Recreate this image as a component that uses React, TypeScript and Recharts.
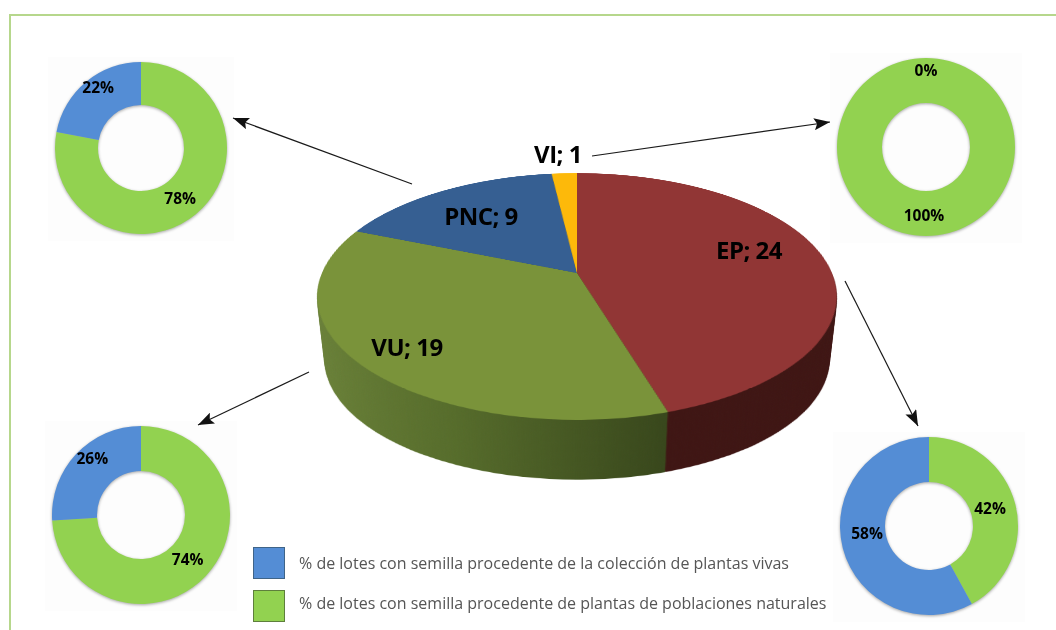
import { Cell, Pie, PieChart } from 'recharts';

const STATUS_NAMES = ['EP', 'VU', 'PNC', 'VI'];
const STATUS_COUNTS = [24, 19, 9, 1];
const STATUS_COLORS = ['#913635', '#7a933a', '#365f92', '#fdb90a'];
const WALL_COLORS = ['#3f1614', 'url(#vuWall)', '#24405f', '#a67a06'];

const DONUT_NAMES = ['Poblaciones naturales', 'Plantas vivas'];
const DONUT_PNC = [78, 22];
const DONUT_VI = [100, 0];
const DONUT_VU = [74, 26];
const DONUT_EP = [42, 58];
const DONUT_COLORS = ['#92d250', '#548dd5'];

const LEGEND_LABELS = [
  '% de lotes con semilla procedente de la colección de plantas vivas',
  '% de lotes con semilla procedente de plantas de poblaciones naturales',
];

const FONT = '"Open Sans", sans-serif';
const SIZE = 600;
const RADIUS = 255;
const APEX = { x: 577, y: 273 };
const TILT = 'perspective(1186px) rotateX(62.2deg)';
const WALL_LAYERS = Array.from({ length: 64 }, (_, i) => 64 - i);

const STATUS_LABEL_POS = [
  { x: 749, y: 250 },
  { x: 407, y: 347 },
  { x: 481, y: 216 },
  { x: 558, y: 154 },
];

const ARROWS = [
  [412, 184, 233, 118],
  [592, 156, 830, 122],
  [309, 372, 198, 425],
  [845, 281, 918, 426],
];

const statusData = STATUS_NAMES.map((name, i) => ({ name, value: STATUS_COUNTS[i] }));

function StatusPie({ colors, layer }: { colors: string[]; layer: number }) {
  const shrink = 1 - layer * 0.00045;
  return (
    <div
      style={{
        position: 'absolute',
        left: APEX.x - SIZE / 2,
        top: APEX.y - SIZE / 2,
        width: SIZE,
        height: SIZE,
        transform: `translateY(${layer}px) scale(${shrink}) ${TILT}`,
      }}
    >
      <PieChart width={SIZE} height={SIZE} margin={{ top: 0, right: 0, bottom: 0, left: 0 }}>
        <defs>
          <linearGradient id="vuWall" gradientUnits="userSpaceOnUse" x1="40" y1="0" x2="390" y2="0">
            <stop offset="0%" stopColor="#6c833a" />
            <stop offset="45%" stopColor="#566c2b" />
            <stop offset="100%" stopColor="#35431a" />
          </linearGradient>
        </defs>
        <Pie
          data={statusData}
          dataKey="value"
          nameKey="name"
          cx={SIZE / 2}
          cy={SIZE / 2}
          innerRadius={0}
          outerRadius={RADIUS}
          startAngle={90}
          endAngle={-270}
          stroke="none"
          isAnimationActive={false}
        >
          {statusData.map((entry, i) => (
            <Cell key={entry.name} fill={colors[i]} />
          ))}
        </Pie>
      </PieChart>
    </div>
  );
}

function donutLabel(radii: number[], nudges: number[][]) {
  return (props: any) => {
    const { cx, cy, midAngle, index, value } = props;
    const angle = (-midAngle * Math.PI) / 180;
    return (
      <text
        x={cx + radii[index] * Math.cos(angle) + nudges[index][0]}
        y={cy + radii[index] * Math.sin(angle) + nudges[index][1]}
        textAnchor="middle"
        dominantBaseline="central"
        fontFamily={FONT}
        fontWeight={700}
        fontSize={15.5}
        fill="#000"
      >
        {value}%
      </text>
    );
  };
}

function Donut({
  values,
  x,
  y,
  outer,
  inner,
  radii,
  nudges,
}: {
  values: number[];
  x: number;
  y: number;
  outer: number;
  inner: number;
  radii: number[];
  nudges: number[][];
}) {
  const box = outer * 2 + 12;
  const data = DONUT_NAMES.map((name, i) => ({ name, value: values[i] }));
  return (
    <>
      {/* the source pasted these in with a barely visible off-white box */}
      <div
        style={{
          position: 'absolute',
          left: x - outer - 7,
          top: y - outer - 5,
          width: outer * 2 + 14,
          height: outer * 2 + 12,
          background: '#fdfdfd',
        }}
      />
      <div
        style={{
          position: 'absolute',
          left: x - box / 2,
          top: y - box / 2,
          width: box,
          height: box,
          filter: 'drop-shadow(0.5px 1.5px 1.5px rgba(0,0,0,0.35))',
        }}
      >
        <PieChart width={box} height={box} margin={{ top: 0, right: 0, bottom: 0, left: 0 }}>
          <Pie
            data={data}
            dataKey="value"
            nameKey="name"
            cx={box / 2}
            cy={box / 2}
            innerRadius={inner}
            outerRadius={outer}
            startAngle={90}
            endAngle={-270}
            stroke="none"
            label={donutLabel(radii, nudges)}
            labelLine={false}
            isAnimationActive={false}
          >
            {data.map((entry, i) => (
              <Cell key={entry.name} fill={DONUT_COLORS[i]} />
            ))}
          </Pie>
        </PieChart>
      </div>
    </>
  );
}

export default function App() {
  return (
    <div
      style={{
        position: 'absolute',
        left: 0,
        top: 0,
        width: 1056,
        height: 630,
        overflow: 'hidden',
        background: '#fff',
        fontFamily: FONT,
      }}
    >
      <div
        style={{
          position: 'absolute',
          left: 9,
          top: 14,
          width: 1100,
          height: 700,
          border: '2px solid #b6d78c',
        }}
      />

      {WALL_LAYERS.map((layer) => (
        <StatusPie key={layer} colors={WALL_COLORS} layer={layer} />
      ))}
      <StatusPie colors={STATUS_COLORS} layer={0} />

      {STATUS_NAMES.map((name, i) => (
        <div
          key={name}
          style={{
            position: 'absolute',
            left: STATUS_LABEL_POS[i].x - 60,
            top: STATUS_LABEL_POS[i].y - 17,
            width: 120,
            height: 34,
            lineHeight: '34px',
            textAlign: 'center',
            fontWeight: 700,
            fontSize: 24,
            letterSpacing: -0.5,
            color: '#000',
          }}
        >
          {`${name}; ${STATUS_COUNTS[i]}`}
        </div>
      ))}

      <Donut values={DONUT_PNC} x={141} y={148} outer={86} inner={43} radii={[63, 75]} nudges={[[-1, 1], [5, -3]]} />
      <Donut values={DONUT_VI} x={926} y={147} outer={89} inner={44} radii={[68, 76]} nudges={[[-2, 0], [0, -1]]} />
      <Donut values={DONUT_VU} x={141} y={515} outer={89} inner={44} radii={[64, 75]} nudges={[[0, 0], [6, -6]]} />
      <Donut values={DONUT_EP} x={929} y={526} outer={89} inner={44} radii={[63, 64]} nudges={[[0, -2], [0, -9]]} />

      <svg width={1056} height={630} style={{ position: 'absolute', left: 0, top: 0 }}>
        <defs>
          <marker id="head" viewBox="0 0 16 12" refX="16" refY="6" markerWidth="16" markerHeight="12" markerUnits="userSpaceOnUse" orient="auto">
            <path d="M0 0 L16 6 L0 12 L3 6 Z" fill="#111" />
          </marker>
        </defs>
        {ARROWS.map(([x1, y1, x2, y2]) => (
          <line key={x1} x1={x1} y1={y1} x2={x2} y2={y2} stroke="#1a1a1a" strokeWidth={1.2} markerEnd="url(#head)" />
        ))}
      </svg>

      {LEGEND_LABELS.map((label, i) => (
        <div key={label}>
          <div
            style={{
              position: 'absolute',
              left: 253,
              top: i === 0 ? 547 : 590,
              width: 30,
              height: 30,
              background: DONUT_COLORS[i === 0 ? 1 : 0],
              border: `1px solid ${i === 0 ? '#3f6488' : '#5e7f3c'}`,
            }}
          />
          <div
            style={{
              position: 'absolute',
              left: 299,
              top: i === 0 ? 553 : 593,
              whiteSpace: 'nowrap',
              fontSize: 16,
              lineHeight: '20px',
              color: '#555',
            }}
          >
            {label}
          </div>
        </div>
      ))}
    </div>
  );
}
